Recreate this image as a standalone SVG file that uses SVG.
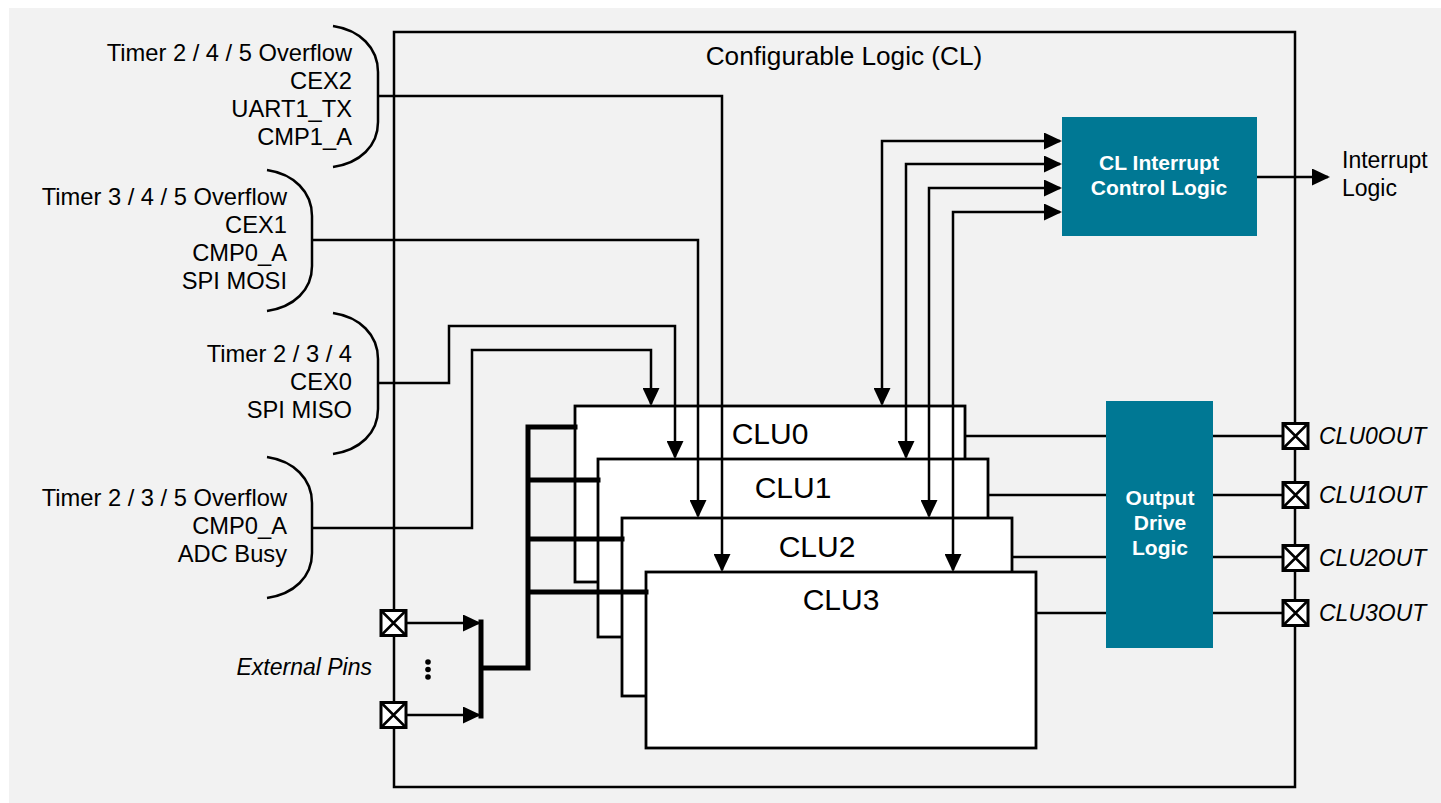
<svg xmlns="http://www.w3.org/2000/svg" width="1441" height="803" viewBox="0 0 1441 803">
<defs>
<style>
.ln{fill:none;stroke:#000;stroke-width:2.5}
.thk{fill:none;stroke:#000;stroke-width:5;stroke-linecap:square}
.clu{fill:#fff;stroke:#000;stroke-width:2.8}
.blk{fill:#007894}
.t{font-family:"Liberation Sans",Arial,sans-serif;font-size:23px;fill:#000}
.m{font-size:23.7px}
.r{text-anchor:end}
.i{font-style:italic}
.b{font-family:"Liberation Sans",Arial,sans-serif;font-size:21px;font-weight:bold;fill:#fff;text-anchor:middle}
.ct{font-family:"Liberation Sans",Arial,sans-serif;font-size:30px;fill:#000;text-anchor:middle}
.pin rect{fill:#fff;stroke:#000;stroke-width:3}
.pin path{fill:none;stroke:#000;stroke-width:2.5}
</style>
<marker id="ah" markerUnits="userSpaceOnUse" markerWidth="19" markerHeight="17" refX="16" refY="8.5" orient="auto-start-reverse">
<path d="M0,0 L18,8.5 L0,17 z" fill="#000"/>
</marker>
</defs>
<rect x="9" y="8" width="1432" height="795" fill="#f2f2f2"/>
<g id="cl-box">
<rect x="394" y="32" width="901" height="755" class="ln"/>
<text x="844" y="65" class="t" style="font-size:26.2px" text-anchor="middle">Configurable Logic (CL)</text>
</g>
<g id="mux1">
<path class="ln" d="M333,26 C360,30 378,48 378,72 V122 C378,146 360,163 333,167"/>
<text class="t m r" x="352" y="61">Timer 2 / 4 / 5 Overflow</text>
<text class="t m r" x="352" y="89">CEX2</text>
<text class="t m r" x="352" y="117">UART1_TX</text>
<text class="t m r" x="352" y="145">CMP1_A</text>
</g>
<g id="mux2">
<path class="ln" d="M267,170 C294,174 312,192 312,216 V266 C312,290 294,307 267,311"/>
<text class="t m r" x="287" y="205">Timer 3 / 4 / 5 Overflow</text>
<text class="t m r" x="287" y="233">CEX1</text>
<text class="t m r" x="287" y="261">CMP0_A</text>
<text class="t m r" x="287" y="289">SPI MOSI</text>
</g>
<g id="mux3">
<path class="ln" d="M333,313 C360,317 378,335 378,359 V409 C378,433 360,450 333,454"/>
<text class="t m r" x="352" y="362">Timer 2 / 3 / 4</text>
<text class="t m r" x="352" y="390">CEX0</text>
<text class="t m r" x="352" y="418">SPI MISO</text>
</g>
<g id="mux4">
<path class="ln" d="M267,457 C294,461 312,479 312,503 V553 C312,577 294,594 267,598"/>
<text class="t m r" x="287" y="506">Timer 2 / 3 / 5 Overflow</text>
<text class="t m r" x="287" y="534">CMP0_A</text>
<text class="t m r" x="287" y="562">ADC Busy</text>
</g>
<g id="clu0"><rect class="clu" x="575" y="406" width="390" height="176"/></g>
<g id="clu1"><rect class="clu" x="598" y="459" width="390" height="178"/></g>
<g id="clu2"><rect class="clu" x="622" y="518" width="390" height="178"/></g>
<g id="clu3"><rect class="clu" x="646" y="572" width="390" height="176"/></g>
<g id="cl-interrupt">
<rect class="blk" x="1062" y="117" width="195" height="119"/>
<text class="b" x="1159" y="170">CL Interrupt</text>
<text class="b" x="1159" y="195">Control Logic</text>
</g>
<g id="output-drive">
<rect class="blk" x="1106" y="401" width="107" height="247"/>
<text class="b" x="1160" y="505">Output</text>
<text class="b" x="1160" y="530">Drive</text>
<text class="b" x="1160" y="555">Logic</text>
</g>
<g id="connectors">
<path class="ln" marker-end="url(#ah)" d="M378,96 H722 V570"/>
<path class="ln" marker-end="url(#ah)" d="M312,240 H698 V516"/>
<path class="ln" marker-end="url(#ah)" d="M378,383 H449 V326 H675 V457"/>
<path class="ln" marker-end="url(#ah)" d="M312,528 H472 V350 H651 V404"/>
<path class="ln" marker-start="url(#ah)" marker-end="url(#ah)" d="M1060,141 H882 V404"/>
<path class="ln" marker-start="url(#ah)" marker-end="url(#ah)" d="M1060,164 H906 V457"/>
<path class="ln" marker-start="url(#ah)" marker-end="url(#ah)" d="M1060,188 H929 V516"/>
<path class="ln" marker-start="url(#ah)" marker-end="url(#ah)" d="M1060,212 H953 V570"/>
<path class="ln" marker-end="url(#ah)" d="M1257,177 H1328"/>
<path class="ln" d="M965,436 H1106 M1213,436 H1283"/>
<path class="ln" d="M988,495 H1106 M1213,495 H1283"/>
<path class="ln" d="M1012,557 H1106 M1213,557 H1283"/>
<path class="ln" d="M1036,613 H1106 M1213,613 H1283"/>
<path class="ln" marker-end="url(#ah)" d="M406,623 H479"/>
<path class="ln" marker-end="url(#ah)" d="M406,715 H479"/>
<path class="thk" d="M481,622 V716 M481,668 H528 V427 H575 M528,480 H598 M528,539 H622 M528,592 H646"/>
</g>
<g id="pins">
<g class="pin"><rect x="381" y="610.5" width="25" height="25"/><path d="M381,610.5 L406,635.5 M406,610.5 L381,635.5"/></g>
<g class="pin"><rect x="381" y="702.5" width="25" height="25"/><path d="M381,702.5 L406,727.5 M406,702.5 L381,727.5"/></g>
<g class="pin"><rect x="1283" y="423.5" width="25" height="25"/><path d="M1283,423.5 L1308,448.5 M1308,423.5 L1283,448.5"/></g>
<g class="pin"><rect x="1283" y="482.5" width="25" height="25"/><path d="M1283,482.5 L1308,507.5 M1308,482.5 L1283,507.5"/></g>
<g class="pin"><rect x="1283" y="545.5" width="25" height="25"/><path d="M1283,545.5 L1308,570.5 M1308,545.5 L1283,570.5"/></g>
<g class="pin"><rect x="1283" y="600.5" width="25" height="25"/><path d="M1283,600.5 L1308,625.5 M1308,600.5 L1283,625.5"/></g>
<circle cx="428" cy="662" r="2.8"/>
<circle cx="428" cy="669.5" r="2.8"/>
<circle cx="428" cy="677" r="2.8"/>
</g>
<g id="labels">
<text class="ct" x="770" y="444">CLU0</text>
<text class="ct" x="793" y="498">CLU1</text>
<text class="ct" x="817" y="557">CLU2</text>
<text class="ct" x="841" y="610">CLU3</text>
<text class="t" x="1342" y="168">Interrupt</text>
<text class="t" x="1342" y="196">Logic</text>
<text class="t i" x="1319" y="444">CLU0OUT</text>
<text class="t i" x="1319" y="503">CLU1OUT</text>
<text class="t i" x="1319" y="566">CLU2OUT</text>
<text class="t i" x="1319" y="621">CLU3OUT</text>
<text class="t i r" x="372" y="675">External Pins</text>
</g>
</svg>
